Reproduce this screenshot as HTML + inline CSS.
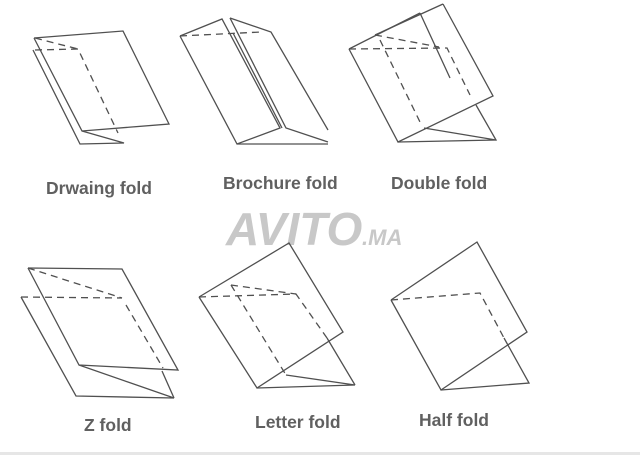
<!DOCTYPE html>
<html><head><style>
html,body{margin:0;padding:0;background:#fff;}
svg{display:block}
text{font-family:"Liberation Sans",sans-serif;font-weight:bold;fill:#606060;font-size:17.5px;}
</style></head><body>
<svg width="640" height="455" viewBox="0 0 640 455" xmlns="http://www.w3.org/2000/svg">
<rect x="0" y="452" width="640" height="3" fill="#e6e6e6"/>
<text x="226" y="245" style="font-size:46px;font-style:italic;fill:#c8c8c8;font-weight:bold">AVITO</text>
<text x="362" y="245" style="font-size:22px;font-style:italic;fill:#c8c8c8;font-weight:bold">.MA</text>
<g fill="none" stroke="#505050" stroke-width="1.3">
<polyline points="34,38 123,31 169,124 82,131 34,38"/>
<polyline points="33,50 80,144 124,143 82,131"/>
<g stroke-dasharray="7,5"><polyline points="35,50 78,49 118,133"/><line x1="35" y1="38" x2="78" y2="49"/></g>
<polyline points="180,36 222,19 280,128 237,144 180,36"/>
<line x1="233" y1="33" x2="282" y2="128"/>
<polyline points="230,18 271,32 328,130"/>
<polyline points="230,18 286,128 328,142"/>
<line x1="237" y1="144" x2="328" y2="144"/>
<line x1="180" y1="36" x2="261" y2="32" stroke-dasharray="7,5"/>
<line x1="349" y1="49" x2="420" y2="13"/>
<line x1="375" y1="35" x2="443" y2="4"/>
<polyline points="443,4 493,96 398,142 349,49"/>
<line x1="420" y1="13" x2="450" y2="78"/>
<polyline points="398,142 496,140 476,105"/>
<line x1="424" y1="128" x2="496" y2="140"/>
<g stroke-dasharray="7,5"><polyline points="349,49 447,48 470,95"/><line x1="375" y1="35" x2="439" y2="47"/><line x1="380" y1="40" x2="420" y2="122"/></g>
<polyline points="28,268 122,269 178,370 79,365 28,268"/>
<polyline points="21,297 76,396 174,398 79,365"/>
<line x1="162" y1="371" x2="174" y2="398"/>
<g stroke-dasharray="7,5"><line x1="28" y1="268" x2="122" y2="298"/><line x1="21" y1="297" x2="122" y2="298"/><line x1="126" y1="305" x2="163" y2="368"/></g>
<polyline points="199,297 289,243 343,332 257,388 199,297"/>
<polyline points="257,388 355,385 286,375"/>
<line x1="327" y1="338" x2="355" y2="385"/>
<g stroke-dasharray="7,5"><polyline points="199,297 296,294 327,338"/><line x1="231" y1="285" x2="296" y2="294"/><line x1="231" y1="285" x2="286" y2="375"/></g>
<polyline points="391,300 477,242 527,332 441,390 391,300"/>
<polyline points="441,390 529,383 504,338"/>
<polyline points="391,300 480,293 504,338" stroke-dasharray="7,5"/>
</g>
<text x="46" y="194">Drwaing fold</text>
<text x="223" y="189">Brochure fold</text>
<text x="391" y="189">Double fold</text>
<text x="84" y="431">Z fold</text>
<text x="255" y="428">Letter fold</text>
<text x="419" y="426">Half fold</text>
</svg>
</body></html>
